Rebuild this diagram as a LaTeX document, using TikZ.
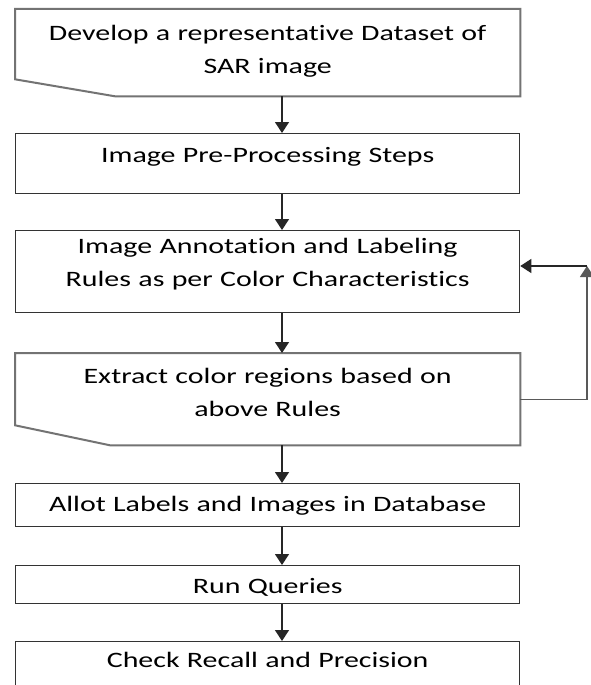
\documentclass[tikz,border=0pt]{standalone}
\usepackage{fontspec}
\setmainfont{Carlito}[FakeStretch=1.36, Ligatures=NoCommon]
\usepackage{tikz}
\usetikzlibrary{arrows.meta}

% space above the first baseline / below the last one
\newcommand{\tp}[1]{\rule{0pt}{#1}}
\newcommand{\bt}[1]{\rule[-#1]{0pt}{0pt}}

\begin{document}
\begin{tikzpicture}[x=1pt, y=-1pt, font=\fontsize{22}{33}\selectfont,
  stepbox/.style={draw=black!80, line width=1.3pt, minimum width=504pt, text width=500pt, align=center, inner sep=0pt, anchor=north west},
  inbox/.style={stepbox, draw=none},
  slant/.style={draw=black!55, line width=2pt},
  flow/.style={-{Triangle[width=14pt,length=11pt]}, black!85, line width=1.3pt}]
\clip (0,0) rectangle (591,685);
\fill[white] (0,0) rectangle (591,685);
\coordinate (spine) at (282,0);
\coordinate (back) at (587,266);

\node[inbox] (b1) at (15,9) {\tp{31pt}Develop a representative Dataset of\\SAR image\bt{22pt}};
\draw[slant] (b1.north west) -- (b1.north east) -- (b1.south east) -- ([xshift=100pt]b1.south west) -- ([yshift=17pt]b1.south west) -- cycle;
\node[stepbox] (b2) at (15,133) {\tp{29pt}Image Pre-Processing Steps\bt{31pt}};
\node[stepbox] (b3) at (15,230) {\tp{23pt}Image Annotation and Labeling\\Rules as per Color Characteristics\bt{26pt}};
\node[inbox] (b4) at (15,353) {\tp{30pt}Extract color regions based on\\above Rules\bt{28pt}};
\draw[slant] (b4.north west) -- (b4.north east) -- (b4.south east) -- ([xshift=95pt]b4.south west) -- ([yshift=20pt]b4.south west) -- cycle;
\node[stepbox] (b5) at (15,483) {\tp{28pt}Allot Labels and Images in Database\bt{15pt}};
\node[stepbox] (b6) at (15,565) {\tp{28pt}Run Queries\bt{10pt}};
\node[stepbox] (b7) at (15,641) {\tp{26pt}Check Recall and Precision\bt{40pt}};

\draw[flow] (b1.south -| spine) -- (b2.north -| spine);
\draw[flow] (b2.south -| spine) -- (b3.north -| spine);
\draw[flow] (b3.south -| spine) -- (b4.north -| spine);
\draw[flow] (b4.south -| spine) -- (b5.north -| spine);
\draw[flow] (b5.south -| spine) -- (b6.north -| spine);
\draw[flow] (b6.south -| spine) -- (b7.north -| spine);
% loop back from the extraction step
\draw[flow, black!65] (b4.east) -| (back);
\draw[flow] (back) -- (back -| b3.east);
\end{tikzpicture}
\end{document}
